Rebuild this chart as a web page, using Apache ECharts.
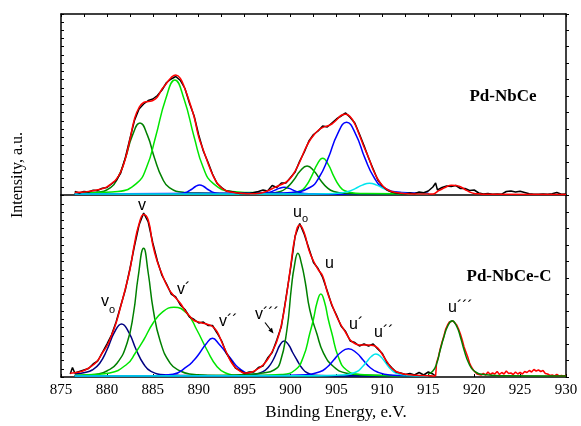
<!DOCTYPE html>
<html><head><meta charset="utf-8">
<script src="https://cdn.jsdelivr.net/npm/echarts/dist/echarts.min.js"></script>
<style>html,body{margin:0;padding:0;background:#fff}#c{width:581px;height:426px}</style>
</head><body><div id="c"></div>
<script>
// ---------- tick labels ----------
const xTickLabels = [875,880,885,890,895,900,905,910,915,920,925,930];

// ---------- TOP PANEL: Pd-NbCe ----------
const topExp = [[876.5,3.5],[877,2],[877.5,3.5],[878,3],[878.5,4.8],[879,4.6],[879.5,6.8],[880,7.5],[880.5,11],[881,14.5],[881.5,22],[882,37],[882.5,56],[883,74.5],[883.5,86],[884,91],[884.5,94.5],[885,96],[885.5,99.5],[886,105],[886.5,112.5],[887,116],[887.5,118.5],[888,114.5],[888.5,106.5],[889,91.5],[889.5,79],[890,60],[890.5,44],[891,33],[891.5,21],[892,11.5],[892.5,7.5],[893,4],[893.5,3.5],[894,2.5],[894.5,1.4],[895,1.8],[895.5,1.5],[896,2.5],[896.5,3.5],[897,5],[897.5,4],[898,9.5],[898.5,7.5],[899,12],[899.5,12],[900,17.5],[900.5,23],[901,34],[901.5,43],[902,54],[902.5,60.5],[903,64],[903.5,69],[904,68],[904.5,72],[905,76],[905.5,79],[906,82],[906.5,77.5],[907,72],[907.5,61],[908,49.5],[908.5,37],[909,26],[909.5,15],[910,9],[910.5,5],[911,3],[911.5,2],[912,1.5],[912.5,1.2],[913,2],[913.5,1.2],[914,3],[914.5,2.2],[915,4],[915.5,8],[915.8,12],[916,5],[916.5,7.5],[917,9],[917.5,8.5],[918,9.5],[918.5,6.5],[919,6.5],[919.5,4.5],[920,5],[920.5,2],[921,1],[921.5,1.5],[922,0.8],[922.5,1],[923,0.8],[923.5,3.5],[924,4],[924.5,3],[925,3.8],[925.5,2.5],[926,1.2],[926.5,0.8],[927,0.8],[927.5,1],[928,0.8],[928.5,1.2],[929,2.5],[929.5,0.8],[930,1]];
const topFit = [[876.5,2.5],[877,2.7],[877.5,3],[878,3.6],[878.5,4.3],[879,5.2],[879.5,6.4],[880,8.2],[880.5,11.5],[881,15.5],[881.5,23],[882,36],[882.5,55],[883,76],[883.5,87.5],[884,92.5],[884.5,93.5],[885,94.5],[885.5,98],[886,106],[886.5,111.7],[887,117.5],[887.5,120],[888,116.5],[888.5,106],[889,93],[889.5,78],[890,58],[890.5,45],[891,32],[891.5,20.5],[892,12],[892.5,7],[893,4.3],[893.5,3],[894,2.3],[894.5,1.8],[895,1.4],[895.5,1.2],[896,1.2],[896.5,1.6],[897,2.5],[897.5,4.2],[898,6.3],[898.5,8.5],[899,10.5],[899.5,12.8],[900,17],[900.5,24],[901,33],[901.5,44],[902,53],[902.5,59.5],[903,64.5],[903.5,67.5],[904,69],[904.5,71],[905,75],[905.5,79.5],[906,80.7],[906.5,78.3],[907,71],[907.5,60],[908,48],[908.5,37.5],[909,25],[909.5,16],[910,9.5],[910.5,5.7],[911,3.5],[911.5,2.4],[912,1.8],[912.5,1.3],[913,1],[915.5,1],[916,3.5],[916.5,6],[917,8.3],[917.5,9.8],[918,9.6],[918.5,8.3],[919,5.5],[919.5,3],[920,1.6],[920.5,1.2],[921,0.8],[930,0.6]];
const topPeakA = [[876.5,1.5],[877.2,1.9],[878.8,2.6],[880.4,7.4],[881.2,17.3],[882,36.5],[882.8,60.1],[883.6,72],[884.4,60.1],[885.2,36.5],[886,17.3],[886.8,7.4],[888.4,2.6],[890,1.9],[895,1.2],[915,1]];
const topPeakB = [[876.5,1.5],[879.1,2.4],[881.2,3.5],[883.2,11.3],[884.3,27.2],[885.3,58],[886.4,96],[887.4,115],[888.4,96],[889.5,58],[890.5,27.2],[891.6,11.3],[893.6,3.5],[895.7,2.4],[900,1.3],[915,1]];
const topPeakC = [[876.5,1],[886.5,1.1],[887.4,1.2],[888.3,1.8],[888.75,3.1],[889.2,5.5],[889.65,8.5],[890.1,10],[890.55,8.5],[891,5.5],[891.45,3.1],[891.9,1.8],[892.8,1.2],[893.7,1.1],[915,1]];
const topPeakDz = [[876.5,1],[894.9,1.1],[896,1.15],[897.1,1.6],[897.65,2.5],[898.2,4.4],[898.75,6.6],[899.3,7.7],[899.85,6.6],[900.4,4.4],[900.95,2.5],[901.5,1.6],[902.6,1.15],[903.7,1.1],[915,1]];
const topPeakD = [[876.5,1],[896,1.3],[897.45,1.6],[898.9,3.5],[899.6,7.4],[900.35,15],[901.07,24.3],[901.8,29],[902.53,24.3],[903.25,15],[903.98,7.4],[904.7,3.5],[906.15,1.6],[907.6,1.3],[915,1]];
const topPeakE = [[876.5,1],[898.7,1.4],[899.9,1.8],[901.1,4.2],[901.7,9.2],[902.3,18.9],[902.9,30.7],[903.5,36.7],[904.1,30.7],[904.7,18.9],[905.3,9.2],[905.9,4.2],[907.1,1.8],[908.3,1.4],[915,1]];
const topPeakF = [[876.5,1],[898.1,1.9],[900.1,2.6],[902.1,7.5],[903.1,17.5],[904.1,36.9],[905.1,60.7],[906.1,72.7],[907.1,60.7],[908.1,36.9],[909.1,17.5],[910.1,7.5],[912.1,2.6],[914.1,1.9],[915,1.7]];
const topPeakG = [[876.5,1],[902.4,1.1],[903.95,1.2],[905.5,2],[906.27,3.5],[907.05,6.4],[907.82,9.9],[908.6,11.7],[909.38,9.9],[910.15,6.4],[910.93,3.5],[911.7,2],[913.25,1.2],[914.8,1.1],[915,1.1]];

// ---------- BOTTOM PANEL: Pd-NbCe-C ----------
const botExp = [[876,3],[876.25,9.5],[876.5,4],[877,5.5],[877.5,7],[878,8.5],[878.5,13],[879,16],[879.5,24.5],[880,33],[880.5,42],[881,55],[881.5,71],[882,87],[882.5,108],[883,131],[883.5,152],[884,164],[884.5,155],[885,134],[885.5,116],[886,101.5],[886.5,93],[887,83],[887.5,80],[888,72],[888.5,67.5],[889,60],[889.5,57.5],[890,54],[890.5,55],[891,51.5],[891.5,51.5],[892,44],[892.5,36],[893,24],[893.5,16.5],[894,9],[894.5,6.5],[895,3.5],[895.5,5],[896,5],[896.5,9.5],[897,11],[897.5,19],[898,24.5],[898.5,37],[899,50.5],[899.5,79],[900,108.5],[900.5,141],[901,153.5],[901.5,142.5],[902,128.5],[902.5,114.5],[903,108.5],[903.5,99.5],[904,86],[904.5,71.5],[905,62],[905.5,51],[906,45.5],[906.5,36],[907,34.5],[907.5,31],[908,33],[908.5,31],[909,33],[909.5,28],[910,23.5],[910.5,14.5],[911,9.5],[911.5,5],[912,4],[912.5,2.5],[913,3.5],[913.5,2],[914,4.5],[914.5,2],[915,5],[915.5,3],[915.8,1]];
const botFit = [[876,3.7],[876.5,4.3],[877,5.1],[877.5,6.5],[878,9],[878.5,12],[879,16.5],[879.5,24],[880,31],[880.5,41.5],[881,54],[881.5,70.5],[882,88],[882.5,107],[883,133],[883.5,153],[884,162.5],[884.5,157],[885,132],[885.5,115],[886,103],[886.5,92],[887,84.5],[887.5,79],[888,73.7],[888.5,66.5],[889,61],[889.5,56.5],[890,55],[890.5,53.7],[891,52.5],[891.5,50.5],[892,45.3],[892.5,35],[893,25],[893.5,15.5],[894,9.5],[894.5,5.8],[895,4],[895.5,4.3],[896,5.8],[896.5,8.5],[897,12],[897.5,17.5],[898,25.5],[898.5,35.5],[899,52],[899.5,78],[900,110],[900.5,140.3],[901,152],[901.5,144],[902,127],[902.5,116],[903,107.5],[903.5,101],[904,85],[904.5,72.5],[905,61],[905.5,52],[906,44.5],[906.5,37],[907,33.5],[907.5,32],[908,32],[908.5,32],[909,31.5],[909.5,29],[910,22.5],[910.5,15.3],[911,9],[911.5,5.5],[912,3.8],[912.5,2.8],[913,2.2],[913.5,1.8],[914,1.6],[914.5,1.4],[915,1.2],[915.5,1.1],[915.8,1]];
const botExpHigh = [[915.8,1],[915.9,14],[916.1,20],[916.3,28],[916.5,35],[916.7,41],[916.9,48],[917.1,52],[917.3,55],[917.5,57],[917.7,56],[917.9,55],[918.1,52],[918.3,48],[918.5,43],[918.7,37],[918.9,30],[919.1,25],[919.3,20],[919.5,14],[919.7,10],[919.9,7],[920.1,5],[920.3,3],[920.5,4],[920.75,2],[921,3.5],[921.25,2],[921.5,5],[921.75,2.5],[922,4],[922.25,3],[922.5,5.5],[922.75,2.5],[923,4.5],[923.25,3],[923.5,6],[923.75,3.5],[924,4],[924.25,2.5],[924.5,5],[924.75,3],[925,4.5],[925.25,3],[925.5,5.5],[925.75,4.5],[926,6.5],[926.25,5],[926.5,7.5],[926.75,6],[927,7],[927.25,5.5],[927.5,6.5],[927.75,3.5],[928,3],[928.25,1.5],[928.5,2],[928.75,1],[929,2.5],[929.25,1],[929.5,1.5],[929.75,1],[930,1.5]];
const botPeakVo = [[876.5,3],[877.6,4.5],[878.4,7],[879.2,13.5],[880,27],[880.8,44.3],[881.6,53],[882.4,44.3],[883.2,27],[884,13],[884.8,5.7],[886.4,2.1],[888,1.6],[895,1.1],[915,1]];
const botPeakV = [[876.5,1.5],[878,2.2],[879,3],[880,6],[881.1,13.7],[882.2,34],[882.9,64],[883.4,100],[884,128.7],[884.5,104],[885.05,67],[885.8,36],[886.9,13.7],[888,6],[889,3],[891,1.8],[895,1.3],[915,1]];
const botPeakV1 = [[876.5,1.5],[878.5,2.5],[880.3,4],[882.2,13],[883.1,24],[884,37],[885,53.5],[886.1,65.3],[887.3,69.7],[888.7,63.7],[889.8,47],[890.9,27],[892,10.3],[893,3.7],[894,1.8],[895,1.2],[915,1]];
const botPeakV2 = [[876.5,1],[885,1.2],[887.2,2.7],[888.7,10.3],[889.5,17],[890.1,24],[890.8,33],[891.5,38.7],[892.2,33],[893,24],[893.6,17],[894.3,9.5],[895.6,2.7],[897,1.5],[915,1]];
const botPeakV3 = [[876.5,1],[894,1.2],[896,2.5],[897,5.3],[897.6,10],[898.1,17],[898.5,25],[898.85,32],[899.3,36],[899.8,32],[900.2,25],[900.7,17],[901.2,9.5],[901.8,4.3],[903,1.5],[905,1.1],[915,1]];
const botPeakUo = [[876.5,1],[891,1.3],[895,2.5],[897,4],[898.2,7],[898.85,14],[899.6,47],[900.1,90],[900.4,110],[900.8,123.7],[901.2,113],[901.6,95],[902.1,67],[902.85,43.7],[903.6,23.7],[904.7,10.3],[906.1,3.7],[908,2],[911,1.4],[915,1]];
const botPeakU = [[876.5,1],[895,1.3],[899,2.5],[900.5,7],[901.4,20.3],[902.1,43.7],[902.5,58],[902.9,75],[903.3,83],[903.7,75],[904.1,58],[904.5,43.7],[905.2,20.3],[906.1,7],[907.6,2.5],[911,1.3],[915,1]];
const botPeakU1 = [[876.5,1],[898,1.3],[901,2],[903.2,5.3],[904,10],[904.7,17],[905.4,24],[906.3,28.3],[907.2,24],[907.9,17],[908.6,10],[909.4,5.3],[910.8,2],[913,1.3],[915,1.2]];
const botPeakU2 = [[876.5,1],[903,1.2],[905.5,2],[907.2,5.3],[907.8,10],[908.3,15.3],[908.8,20.5],[909.3,23],[909.8,20.5],[910.4,13.7],[910.9,8],[911.4,4.3],[912.6,1.7],[914,1.2],[915,1.1]];
const botPeakU3 = [[915,3],[915.5,6],[915.9,13],[916.3,27],[916.7,40],[917.1,50.5],[917.6,56.3],[918.1,50.5],[918.5,40],[918.9,27],[919.4,14],[920,6],[921,2.5],[923,1.3],[930,1]];

// ---------- styles ----------
const C = {
  red:'#ff0000', black:'#000000', dgreen:'#008000', lgreen:'#00e600',
  blue:'#0000ff', navy:'#000080', cyan:'#00e5ee'
};
const SERIF = '"Liberation Serif","Times New Roman",serif';
const SANS = '"Liberation Sans",Arial,sans-serif';

function ln(data, color, panel, z, opts) {
  opts = opts || {};
  return {
    type:'line', data:data, xAxisIndex: panel===0?0:2, yAxisIndex: panel===0?0:2,
    showSymbol:false, symbol:'none', silent:true, animation:false,
    smooth: opts.smooth===undefined ? 0.5 : opts.smooth,
    z:z, lineStyle:{color:color, width: opts.w || 1.5}
  };
}

const chart = echarts.init(document.getElementById('c'), null, {renderer:'canvas'});
const axisLineStyle = {show:true, onZero:false, lineStyle:{color:'#000', width:1.5}};
const xCommon = {type:'value', min:875, max:930, splitLine:{show:false}};
const yCommon = {type:'value', min:0, splitLine:{show:false}, axisLabel:{show:false}};

chart.setOption({
  backgroundColor:'#fff',
  animation:false,
  grid:[
    {left:61, top:14, width:505, height:181},
    {left:61, top:195, width:505, height:182}
  ],
  xAxis:[
    Object.assign({}, xCommon, {gridIndex:0, position:'top', interval:2.5,
      axisLine:axisLineStyle, axisTick:{show:true, inside:true, length:3, lineStyle:{color:'#000'}},
      axisLabel:{show:false}}),
    Object.assign({}, xCommon, {gridIndex:0, position:'bottom', interval:5,
      axisLine:axisLineStyle, axisTick:{show:false}, axisLabel:{show:false}}),
    Object.assign({}, xCommon, {gridIndex:1, position:'bottom', interval:5,
      axisLine:axisLineStyle, axisTick:{show:true, inside:true, length:3, lineStyle:{color:'#000'}},
      axisLabel:{show:true, color:'#000', fontFamily:SERIF, fontSize:15, margin:6,
        formatter:function(v){ const i = xTickLabels.indexOf(Math.round(v)); return i>=0 ? String(xTickLabels[i]) : ''; }}})
  ],
  yAxis:[
    Object.assign({}, yCommon, {gridIndex:0, max:181, interval:8.25, position:'left',
      axisLine:axisLineStyle, axisTick:{show:true, inside:true, length:3, lineStyle:{color:'#000'}}}),
    Object.assign({}, yCommon, {gridIndex:0, max:181, interval:16.5, position:'right',
      axisLine:axisLineStyle, axisTick:{show:true, inside:false, length:3, lineStyle:{color:'#000'}}}),
    Object.assign({}, yCommon, {gridIndex:1, max:182, interval:8.25, position:'left',
      axisLine:axisLineStyle, axisTick:{show:true, inside:true, length:3, lineStyle:{color:'#000'}}}),
    Object.assign({}, yCommon, {gridIndex:1, max:182, interval:16.5, position:'right',
      axisLine:axisLineStyle, axisTick:{show:true, inside:false, length:3, lineStyle:{color:'#000'}}})
  ],
  series:[
    // top components
    ln(topPeakA, C.dgreen, 0, 2),
    ln(topPeakB, C.lgreen, 0, 2),
    ln(topPeakC, C.blue, 0, 2),
    ln(topPeakDz, C.blue, 0, 2),
    ln(topPeakD, C.dgreen, 0, 2),
    ln(topPeakE, C.lgreen, 0, 2),
    ln(topPeakF, C.blue, 0, 2),
    ln(topPeakG, C.cyan, 0, 2),
    ln(topExp, C.black, 0, 3, {smooth:false}),
    ln(topFit, C.red, 0, 4),
    // bottom components
    ln(botPeakVo, C.navy, 1, 2),
    ln(botPeakV, C.dgreen, 1, 2),
    ln(botPeakV1, C.lgreen, 1, 2),
    ln(botPeakV2, C.blue, 1, 2),
    ln(botPeakV3, C.navy, 1, 2),
    ln(botPeakUo, C.dgreen, 1, 2),
    ln(botPeakU, C.lgreen, 1, 2),
    ln(botPeakU1, C.blue, 1, 2),
    ln(botPeakU2, C.cyan, 1, 2),
    ln(botExp, C.black, 1, 3, {smooth:false}),
    ln(botFit, C.red, 1, 4),
    ln(botExpHigh, C.red, 1, 3, {smooth:false}),
    ln(botPeakU3, C.dgreen, 1, 5)
  ],
  graphic:[
    {type:'text', x:503, y:97, style:{text:'Pd-NbCe', font:'bold 17px '+SERIF, fill:'#000', textAlign:'center', textVerticalAlign:'middle', align:'center', verticalAlign:'middle'}},
    {type:'text', x:509, y:277, style:{text:'Pd-NbCe-C', font:'bold 17px '+SERIF, fill:'#000', textAlign:'center', textVerticalAlign:'middle', align:'center', verticalAlign:'middle'}},
    {type:'text', x:18, y:175, rotation:Math.PI/2, style:{text:'Intensity, a.u.', font:'16px '+SERIF, fill:'#000', textAlign:'center', textVerticalAlign:'middle', align:'center', verticalAlign:'middle'}},
    {type:'text', x:336, y:413, style:{text:'Binding Energy, e.V.', font:'17px '+SERIF, fill:'#000', textAlign:'center', textVerticalAlign:'middle', align:'center', verticalAlign:'middle'}},
    // peak labels
    {type:'text', x:138, y:206, style:{text:'v', font:'16px '+SANS, fill:'#000', textVerticalAlign:'middle', verticalAlign:'middle'}},
    {type:'text', x:101, y:302, style:{text:'v', font:'16px '+SANS, fill:'#000', textVerticalAlign:'middle', verticalAlign:'middle'}},
    {type:'text', x:109, y:310, style:{text:'o', font:'11px '+SANS, fill:'#000', textVerticalAlign:'middle', verticalAlign:'middle'}},
    {type:'text', x:177, y:290, style:{text:'v\u00B4', font:'16px '+SANS, fill:'#000', textVerticalAlign:'middle', verticalAlign:'middle'}},
    {type:'text', x:219, y:322, style:{text:'v\u00B4\u00B4', font:'16px '+SANS, fill:'#000', textVerticalAlign:'middle', verticalAlign:'middle'}},
    {type:'text', x:255, y:315, style:{text:'v\u00B4\u00B4\u00B4', font:'16px '+SANS, fill:'#000', textVerticalAlign:'middle', verticalAlign:'middle'}},
    {type:'line', shape:{x1:265, y1:322.5, x2:271.5, y2:331}, style:{stroke:'#000', lineWidth:1.2}},
    {type:'polygon', shape:{points:[[273.5,333.5],[268.3,330.5],[272,327.8]]}, style:{fill:'#000'}},
    {type:'text', x:293, y:213, style:{text:'u', font:'16px '+SANS, fill:'#000', textVerticalAlign:'middle', verticalAlign:'middle'}},
    {type:'text', x:302, y:219, style:{text:'o', font:'11px '+SANS, fill:'#000', textVerticalAlign:'middle', verticalAlign:'middle'}},
    {type:'text', x:325, y:264, style:{text:'u', font:'16px '+SANS, fill:'#000', textVerticalAlign:'middle', verticalAlign:'middle'}},
    {type:'text', x:349, y:325, style:{text:'u\u00B4', font:'16px '+SANS, fill:'#000', textVerticalAlign:'middle', verticalAlign:'middle'}},
    {type:'text', x:374, y:333, style:{text:'u\u00B4\u00B4', font:'16px '+SANS, fill:'#000', textVerticalAlign:'middle', verticalAlign:'middle'}},
    {type:'text', x:448, y:308, style:{text:'u\u00B4\u00B4\u00B4', font:'16px '+SANS, fill:'#000', textVerticalAlign:'middle', verticalAlign:'middle'}}
  ]
});
</script></body></html>
